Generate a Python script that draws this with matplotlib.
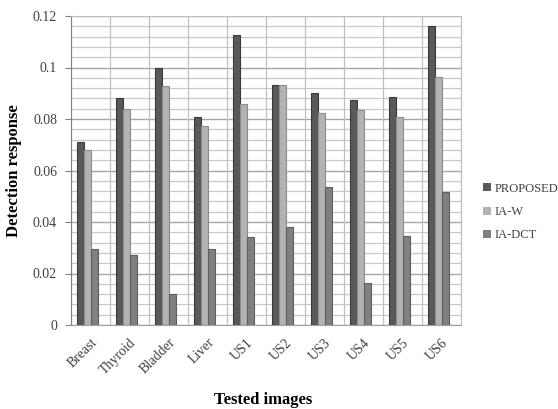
import numpy as np
import matplotlib.pyplot as plt
from matplotlib.patches import Patch

categories = ["Breast", "Thyroid", "Bladder", "Liver", "US1", "US2", "US3", "US4", "US5", "US6"]
proposed = [0.0711, 0.0883, 0.0998, 0.0807, 0.1125, 0.0932, 0.0901, 0.0874, 0.0884, 0.1161]
ia_w = [0.0680, 0.0839, 0.0928, 0.0773, 0.0857, 0.0932, 0.0822, 0.0834, 0.0807, 0.0963]
ia_dct = [0.0295, 0.0273, 0.0119, 0.0296, 0.0343, 0.0382, 0.0537, 0.0162, 0.0347, 0.0515]
series_names = ["PROPOSED", "IA-W", "IA-DCT"]
yticks = [0, 0.02, 0.04, 0.06, 0.08, 0.1, 0.12]
ytick_labels = ["0", "0.02", "0.04", "0.06", "0.08", "0.1", "0.12"]

colors = ["#595959", "#b3b3b3", "#808080"]
edges = ["#3a3a3a", "#8c8c8c", "#5e5e5e"]

plt.rcParams['font.family'] = ['Liberation Serif', 'DejaVu Serif']

fig = plt.figure(figsize=(5.58, 4.09), dpi=100)
ax = fig.add_axes([71 / 558, 1 - 325 / 409, 390 / 558, 309 / 409])

x = np.arange(len(categories))
w = 0.18
offsets = [0.24, 0.42, 0.60]
for vals, off, c, e, name in zip([proposed, ia_w, ia_dct], offsets, colors, edges, series_names):
    ax.bar(x + off, vals, width=w, color=c, edgecolor=e, linewidth=0.8, zorder=3, label=name)

ax.set_xlim(0, len(categories))
ax.set_ylim(0, 0.12)

# gridlines
for yv in np.arange(0, 0.1201, 0.004):
    ax.axhline(yv, color="#c8c8c8", linewidth=0.9, zorder=1)
for yv in yticks:
    ax.axhline(yv, color="#a6a6a6", linewidth=0.9, zorder=1)
for xv in range(len(categories) + 1):
    ax.axvline(xv, color="#c0c0c0", linewidth=0.9, zorder=1)

ax.set_yticks(yticks)
ax.set_yticklabels(ytick_labels, color="#404040", fontsize=10)
ax.tick_params(axis='y', length=4, color="#808080", pad=6)
ax.set_xticks(x + 0.5)
ax.set_xticklabels(categories, rotation=45, ha='right', rotation_mode='anchor',
                   color="#404040", fontsize=10)
ax.tick_params(axis='x', length=0, pad=8)

for s in ["top", "right"]:
    ax.spines[s].set_color("#bfbfbf")
ax.spines["left"].set_color("#808080")
ax.spines["bottom"].set_color("#a0a0a0")

ax.set_ylabel("Detection response", fontsize=12, fontweight='bold', labelpad=8)
fig.text(263 / 558, 1 - 400 / 409, "Tested images", fontsize=12, fontweight='bold',
         ha='center', va='center')

handles = [Patch(facecolor=c, edgecolor='none', label=n) for c, n in zip(colors, series_names)]
fig.legend(handles=handles, loc='center left', bbox_to_anchor=(483 / 558, 1 - 212 / 409),
           frameon=False, fontsize=9, handlelength=0.6, handleheight=0.6,
           handletextpad=0.3, labelspacing=0.9, labelcolor="#404040",
           borderaxespad=0, borderpad=0)

fig.savefig("out.png", dpi=100)
